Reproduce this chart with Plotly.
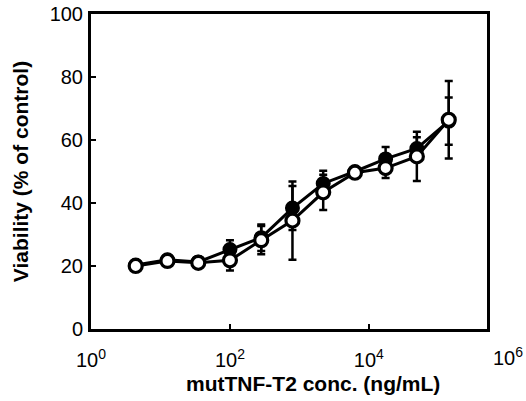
import plotly.graph_objects as go

# mutTNF-T2 concentration (ng/mL)
conc = [4.4, 12.6, 35, 100, 282, 794, 2200, 6300, 17400, 49000, 141000]

# Viability (% of control), two series with SD
viab_filled = [20.3, 22.0, 21.3, 25.2, 29.0, 38.4, 46.2, 50.0, 54.0, 57.3, 66.0]
err_filled = [1.0, 1.2, 0.8, 3.0, 4.2, 7.0, 4.0, 1.0, 3.8, 3.6, 7.5]

viab_open = [20.0, 21.6, 21.0, 21.8, 28.2, 34.4, 43.4, 49.6, 51.1, 54.8, 66.4]
err_open = [1.2, 1.0, 1.0, 3.2, 4.5, 12.4, 5.6, 1.0, 3.2, 7.8, 12.3]

x_tickvals = [1, 100, 10000]
x_ticktext = ["10<sup>0</sup>", "10<sup>2</sup>", "10<sup>4</sup>"]
y_tickvals = [0, 20, 40, 60, 80, 100]

X_MIN_LOG, X_MAX_LOG = 0, 5.7

FONT = "Liberation Sans, Arial, sans-serif"

fig = go.Figure()

fig.add_trace(go.Scatter(
    x=conc, y=viab_filled, mode="lines+markers",
    line=dict(color="black", width=3),
    marker=dict(symbol="circle", size=13, color="black",
                line=dict(color="black", width=2)),
    error_y=dict(type="data", array=err_filled, visible=True,
                 color="black", thickness=2.5, width=4),
    showlegend=False,
))

fig.add_trace(go.Scatter(
    x=conc, y=viab_open, mode="lines+markers",
    line=dict(color="black", width=3),
    marker=dict(symbol="circle", size=13, color="white",
                line=dict(color="black", width=3.2)),
    error_y=dict(type="data", array=err_open, visible=True,
                 color="black", thickness=2.5, width=4),
    showlegend=False,
))

fig.update_xaxes(
    type="log", range=[X_MIN_LOG, X_MAX_LOG],
    tickvals=x_tickvals, ticktext=x_ticktext,
    ticks="inside", ticklen=5, tickwidth=2, tickcolor="black",
    showline=True, linewidth=3, linecolor="black", mirror=True,
    showgrid=False, zeroline=False, automargin=False,
    tickfont=dict(family=FONT, size=20, color="black"),
    ticklabelstandoff=11,
)

fig.update_yaxes(
    range=[0, 100], tickvals=y_tickvals,
    ticks="inside", ticklen=5, tickwidth=2, tickcolor="black",
    showline=True, linewidth=3, linecolor="black", mirror=True,
    showgrid=False, zeroline=False, automargin="left+right",
    tickfont=dict(family=FONT, size=20, color="black"),
    ticklabelstandoff=1,
    title=dict(text="<b>Viability (% of control)</b>",
               font=dict(family=FONT, size=21, color="black"),
               standoff=16),
)

# the 10^6 label sits just beyond the right edge of the frame
fig.add_annotation(
    x=(6 - X_MIN_LOG) / (X_MAX_LOG - X_MIN_LOG), y=0,
    xref="paper", yref="paper", yanchor="top", xanchor="center",
    text="10<sup>6</sup>", showarrow=False, yshift=-13,
    font=dict(family=FONT, size=20, color="black"),
)

# x-axis title, set slightly right of the frame centre
fig.add_annotation(
    x=0.56, y=0, xref="paper", yref="paper",
    xanchor="center", yanchor="middle", yshift=-54,
    text="<b>mutTNF-T2 conc. (ng/mL)</b>", showarrow=False,
    font=dict(family=FONT, size=21, color="black"),
)

fig.update_layout(
    width=526, height=401,
    margin=dict(l=91, r=39, t=14, b=72),
    paper_bgcolor="white", plot_bgcolor="white",
)

fig.write_html("out.html")
